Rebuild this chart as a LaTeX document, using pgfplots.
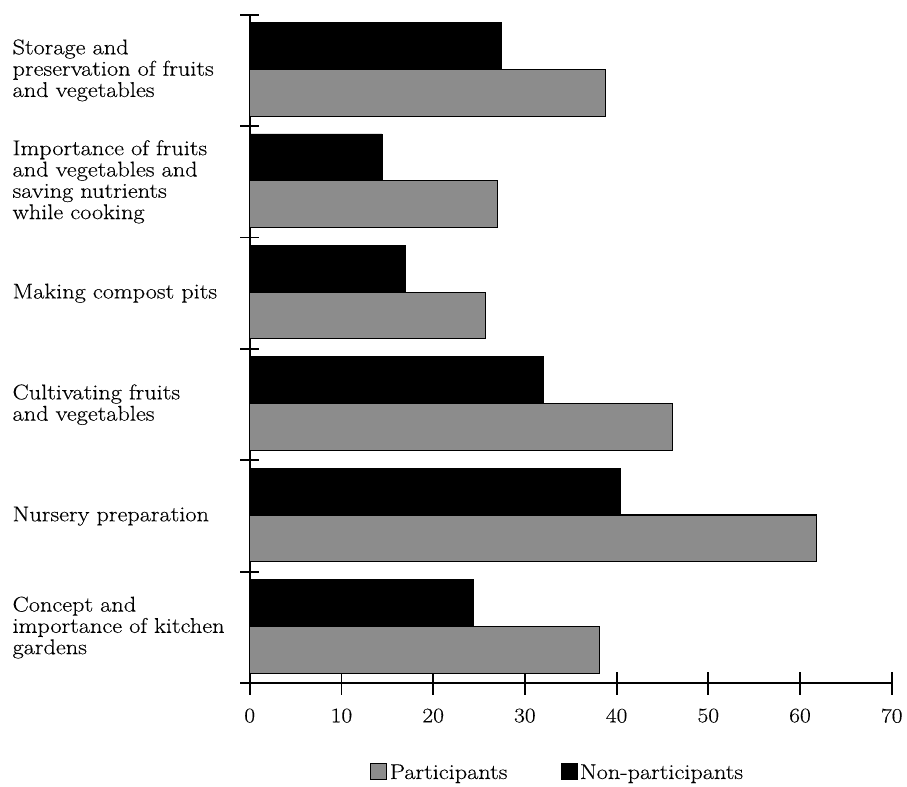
\documentclass[border=0pt]{standalone}
\usepackage{fontspec}
\setmainfont{Latin Modern Roman}[FakeStretch=1.14, FakeBold=0.25]
\usepackage{pgfplots}
\pgfplotsset{compat=1.18}
\usepackage{pgfplotstable}
\pgfplotstableread{
y part non
0 38.1 24.4
1 61.8 40.4
2 46.1 32.0
3 25.7 17.0
4 27.0 14.4
5 38.8 27.4
}\datatable
\definecolor{partgray}{gray}{0.55}
\begin{document}
\begin{tikzpicture}
\begin{axis}[
  scale only axis,
  width=482pt, height=502pt,
  xbar, bar width=0.42,
  xmin=0, xmax=70,
  ymin=-0.5, ymax=5.5,
  axis lines=left,
  axis line style={-, line width=1.6pt},
  xtick={0,10,...,70},
  ytick={0,1,2,3,4,5},
  yticklabels={
    {Concept and\\importance of kitchen\\gardens},
    {Nursery preparation},
    {Cultivating fruits\\and vegetables},
    {Making compost pits},
    {Importance of fruits\\and vegetables and\\saving nutrients\\while cooking},
    {Storage and\\preservation of fruits\\and vegetables}},
  minor ytick={-0.5,0.5,...,5.5},
  major tick length=17pt,
  minor tick length=14pt,
  tick align=center,
  tick style={line width=1.4pt, black},
  y tick style={draw=none},
  minor y tick style={draw=black, line width=1.4pt},
  /pgf/number format/assume math mode=true,
  xticklabel style={font=\fontsize{15.5}{16}\selectfont, yshift=-7pt},
  yticklabel style={font=\fontsize{16}{16}\selectfont, align=left, text width=172pt, xshift=6pt},
  legend style={draw=none, at={(0.48,-0.113)}, anchor=north, legend columns=2,
    font=\fontsize{16}{16}\selectfont, /tikz/every even column/.append style={column sep=38pt}},
  legend image code/.code={\draw[#1, draw=black] (-3pt,-5pt) rectangle (9pt,7pt);},
  extra description/.code={\path (rel axis cs:0,1) ++(-187.5pt,11pt);},
  clip=false,
]
\addplot[fill=partgray, draw=black, line width=0.8pt, bar shift=-0.2] table[x=part, y=y] {\datatable};
\addlegendentry{Participants}
\addplot[fill=black, draw=black, bar shift=0.22] table[x=non, y=y] {\datatable};
\addlegendentry{Non-participants}
\end{axis}
\end{tikzpicture}
\end{document}
